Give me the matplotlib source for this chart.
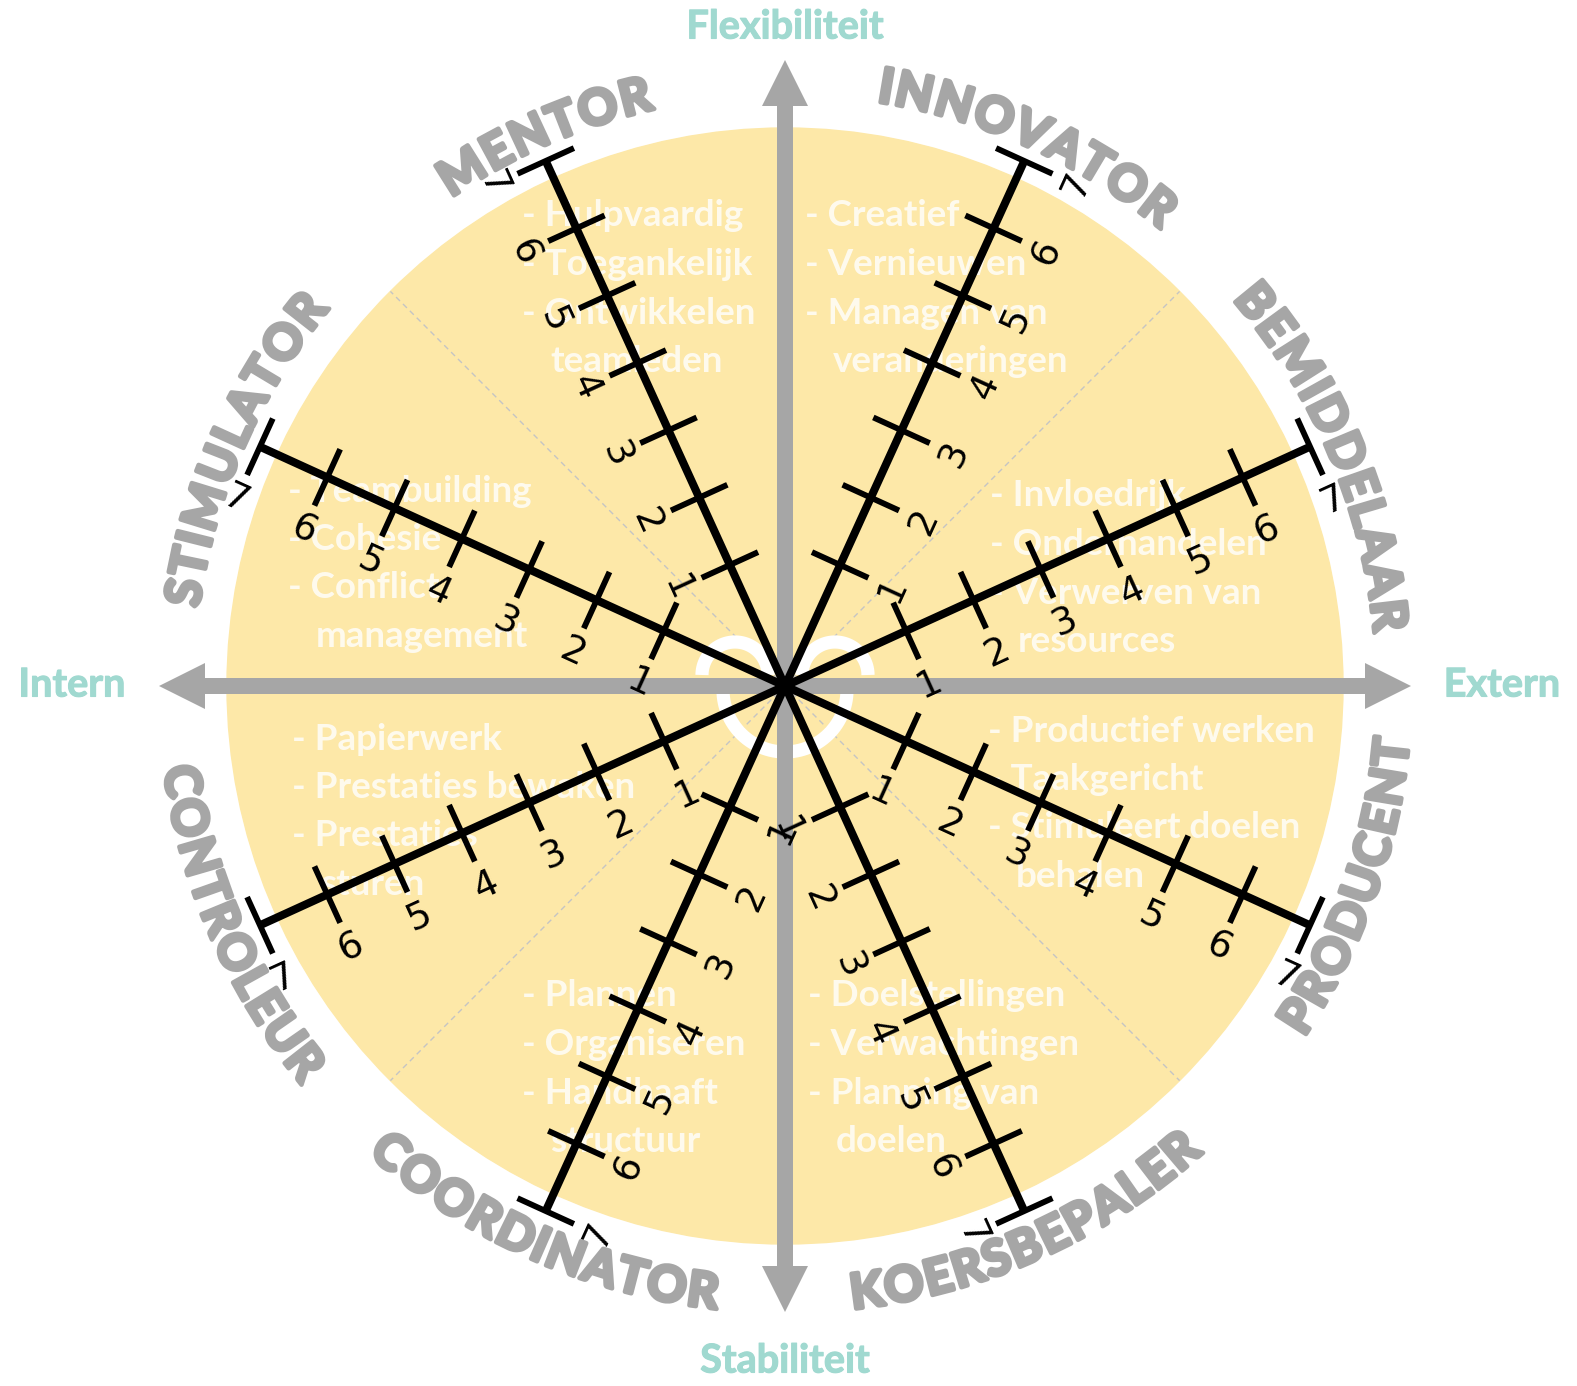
import numpy as np
import matplotlib
matplotlib.use("Agg")
import matplotlib.pyplot as plt
import matplotlib.patheffects as pe
from matplotlib.patches import Circle, FancyArrow
from matplotlib.font_manager import FontProperties
from matplotlib.textpath import TextToPath

W, H, DPI = 1577, 1386, 100
cx, cy, R = 785, 686, 558

# roles, clockwise starting top right
roles = ["INNOVATOR", "BEMIDDELAAR", "PRODUCENT", "KOERSBEPALER",
         "COORDINATOR", "CONTROLEUR", "STIMULATOR", "MENTOR"]
role_angles = [65.8, 23.0, -19.5, -66.0, 246.0, 203.5, 156.4, 113.6]
spoke_angles = [65.5, 24.5, -24.5, -65.5, 245.5, 204.5, 155.5, 114.5]
scale = [1, 2, 3, 4, 5, 6, 7]

descriptions = [
    ["- Creatief", "- Vernieuwen", "- Managen van", "veranderingen"],
    ["- Invloedrijk", "- Onderhandelen", "- Verwerven van", "resources"],
    ["- Productief werken", "- Taakgericht", "- Stimuleert doelen", "behalen"],
    ["- Doelstellingen", "- Verwachtingen", "- Planning van", "doelen"],
    ["- Plannen", "- Organiseren", "- Handhaaft", "structuur"],
    ["- Papierwerk", "- Prestaties bewaken", "- Prestaties", "sturen"],
    ["- Teambuilding", "- Cohesie", "- Conflict", "management"],
    ["- Hulpvaardig", "- Toegankelijk", "- Ontwikkelen", "teamleden"],
]
desc_pos = [(805, 216), (990, 496), (988, 731), (808, 996),
            (522, 996), (292, 739), (288, 491), (522, 216)]

axis_labels = ["Flexibiliteit", "Extern", "Stabiliteit", "Intern"]
axis_label_pos = [(785, 27), (1502, 685), (785, 1361), (72, 685)]
axis_dirs = [90, 0, 270, 180]
axis_tip = 626

gray = "#a6a6a6"
teal = "#a0d9d0"
fill = "#fde8a8"


def pt(r, deg):
    a = np.radians(deg)
    return cx + r * np.cos(a), cy - r * np.sin(a)


fig = plt.figure(figsize=(W / DPI, H / DPI), dpi=DPI)
ax = fig.add_axes([0, 0, 1, 1])
ax.set_xlim(0, W)
ax.set_ylim(H, 0)
ax.axis("off")

ax.add_patch(Circle((cx, cy), R, color=fill, zorder=1))

# dashed quadrant lines
for d in [45, 135, 225, 315]:
    x1, y1 = pt(R, d)
    ax.plot([cx, x1], [cy, y1], color="#c4c4c4", lw=1, ls=(0, (4, 3)), zorder=2)

# description texts
for lines, (x0, y0) in zip(descriptions, desc_pos):
    for i, s in enumerate(lines):
        xx = x0 if s.startswith("-") else x0 + 28
        ax.text(xx, y0 + i * 48.5, s, color="white", alpha=0.8, fontsize=26.5,
                family="Lato", weight="bold", ha="left", va="center", zorder=3)

# white heart shape in the middle
t = np.linspace(0, np.pi, 60)
for hx in [735, 835]:
    ax.plot(hx + 33 * np.cos(t), 675 - 33 * np.sin(t), color="white", lw=9.5,
            solid_capstyle="butt", zorder=3)
ax.plot(785 + 62 * np.cos(t), 690 + 62 * np.sin(t), color="white", lw=9.5,
        solid_capstyle="butt", zorder=3)

# gray axes arrows
for d in axis_dirs:
    a = np.radians(d)
    ax.add_patch(FancyArrow(cx, cy, axis_tip * np.cos(a), -axis_tip * np.sin(a),
                            width=16, head_width=46, head_length=46,
                            length_includes_head=True, color=gray, lw=0, zorder=4))

# axis labels
for lab, (x, y) in zip(axis_labels, axis_label_pos):
    ax.text(x, y, lab, color=teal, fontsize=28.5, family="Lato", weight="bold",
            ha="center", va="center", zorder=6,
            path_effects=[pe.withStroke(linewidth=0.8, foreground=teal)])

# spokes with scale 1..7
r7, step = 577, 74
for phi in spoke_angles:
    x7, y7 = pt(r7, phi)
    ax.plot([cx, x7], [cy, y7], color="black", lw=5.8, solid_capstyle="butt", zorder=5)
    a = np.radians(phi)
    nx, ny = -np.sin(a), -np.cos(a)
    p = (phi + 180) % 360 - 180
    th = p if -90 < p < 90 else p - 180
    th = (th + 180) % 360 - 180
    tr = np.radians(th)
    for k in scale:
        r = r7 - step * (7 - k)
        x, y = pt(r, phi)
        ax.plot([x - 31 * nx, x + 31 * nx], [y - 31 * ny, y + 31 * ny],
                color="black", lw=4.2, solid_capstyle="butt", zorder=5)
        lx, ly = x + 58 * np.sin(tr), y + 58 * np.cos(tr)
        ax.text(lx, ly, str(k), fontsize=27, family="DejaVu Sans", rotation=th,
                rotation_mode="anchor", ha="center", va="center", zorder=6)

# curved role names
fsize = 35
track = 1.07
fp = FontProperties(family="Lato", weight="bold", size=fsize)
ttp = TextToPath()
heavy = [pe.withStroke(linewidth=3.2, foreground=gray)]


def wpx(s):
    if not s:
        return 0.0
    return ttp.get_text_width_height_descent(s, fp, ismath=False)[0] * DPI / 72


cap = 0.72 * fsize * DPI / 72
rname = 609
for name, ang in zip(roles, role_angles):
    total = wpx(name)
    top = 0 < ang < 180
    rb = rname - cap / 2 if top else rname + cap / 2
    for i, ch in enumerate(name):
        mid = ((wpx(name[:i]) + wpx(name[:i + 1])) / 2 - total / 2) * track
        dphi = np.degrees(mid / rb)
        phi = ang - dphi if top else ang + dphi
        x, y = pt(rb, phi)
        rot = phi - 90 if top else phi + 90
        ax.text(x, y, ch, fontproperties=fp, color=gray, rotation=rot,
                rotation_mode="anchor", ha="center", va="baseline", zorder=6,
                path_effects=heavy)

fig.savefig("out.png", dpi=DPI)
